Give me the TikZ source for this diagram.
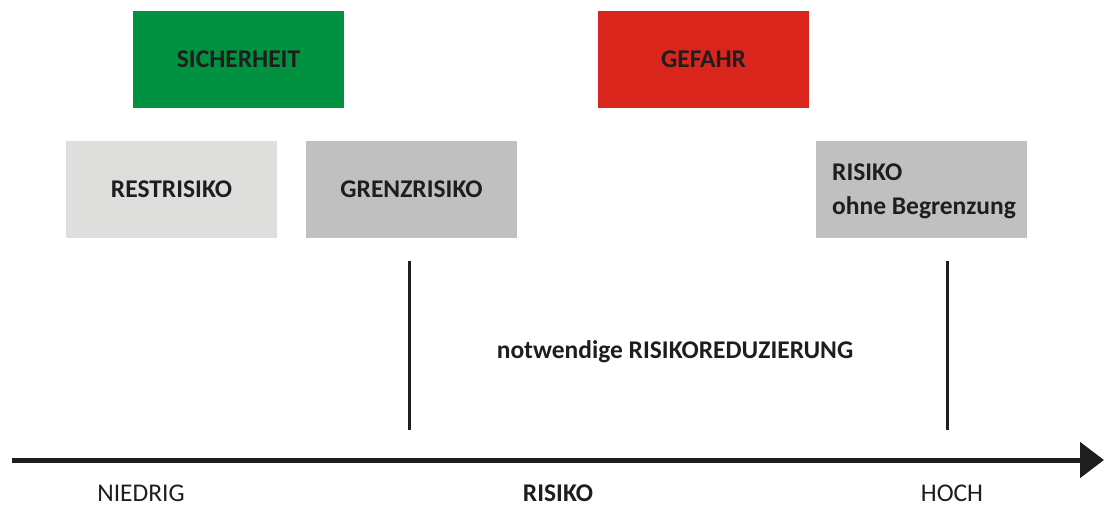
\documentclass[tikz,border=0pt]{standalone}
\usepackage{fontspec}
\setmainfont{Carlito}
\usetikzlibrary{arrows.meta}
\definecolor{sgreen}{RGB}{0,146,64}
\definecolor{sred}{RGB}{218,37,29}
\definecolor{lgray}{RGB}{222,222,221}
\definecolor{mgray}{RGB}{192,192,192}
\definecolor{txt}{RGB}{30,30,30}
\tikzset{
  box/.style={minimum width=211pt, minimum height=97pt, inner sep=0pt, outer sep=0pt, font=\fontsize{25.5}{34}\selectfont\bfseries, text=txt},
  lbl/.style={inner sep=0pt, font=\fontsize{25.5}{34}\selectfont, text=txt},
  blbl/.style={lbl, font=\fontsize{25.5}{34}\selectfont\bfseries},
  marker/.style={line width=3pt, draw=txt},
}
\begin{document}
\begin{tikzpicture}[x=1pt,y=-1pt]
\useasboundingbox (0,0) rectangle (1104,507);
\node[box, fill=sgreen, anchor=north west] (sich) at (133,11) {SICHERHEIT};
\node[box, fill=sred, anchor=north west] (gef) at (598,11) {GEFAHR};
\node[box, fill=lgray, anchor=north west] (rest) at (66,141) {RESTRISIKO};
\node[box, fill=mgray, anchor=north west] (grenz) at (306,141) {GRENZRISIKO};
\node[box, fill=mgray, anchor=north west] (ohne) at (816,141) {};
\node[blbl, anchor=west, align=left] (ohnetxt) at ([xshift=16pt,yshift=-2pt]ohne.west) {RISIKO\\ohne Begrenzung};
\coordinate (g1) at (409,261);
\coordinate (g2) at (409,430);
\coordinate (h1) at (947,261);
\coordinate (h2) at (947,430);
\draw[marker] (g1) -- (g2);
\draw[marker] (h1) -- (h2);
\node[blbl] (red) at (675,352) {notwendige RISIKOREDUZIERUNG};
\coordinate (a0) at (12,460);
\coordinate (a1) at (1104,460);
\draw[line width=5pt, draw=txt, -{Triangle[length=24pt,width=35pt]}] (a0) -- (a1);
\node[lbl] (nied) at (141,493) {NIEDRIG};
\node[blbl] (ris) at (558,493) {RISIKO};
\node[lbl] (hoch) at (952,493) {HOCH};
\end{tikzpicture}
\end{document}
